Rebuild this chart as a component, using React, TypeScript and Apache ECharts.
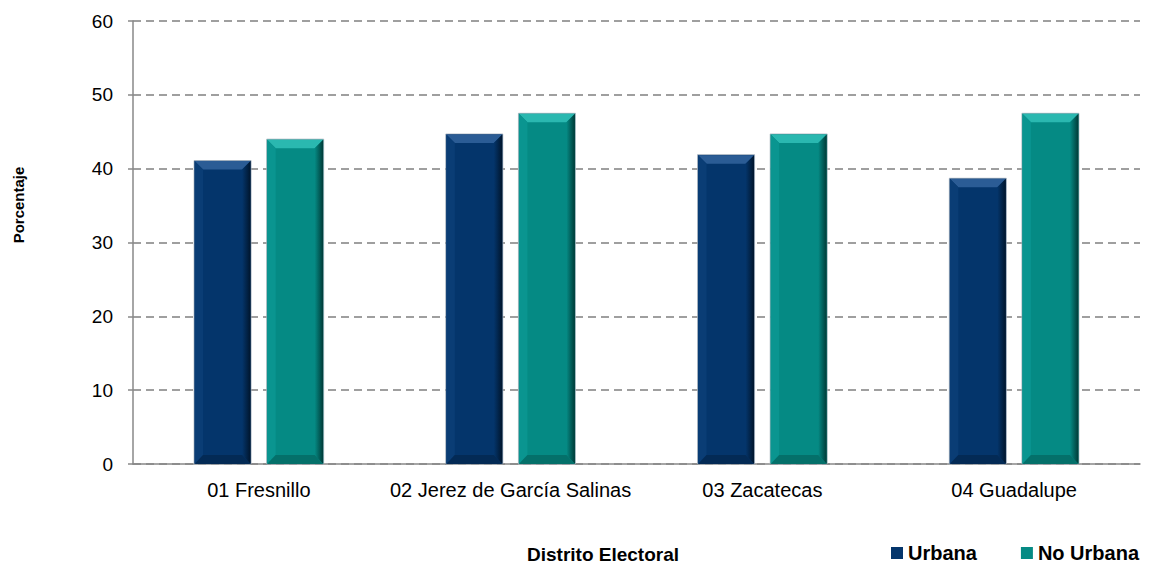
import React, { useEffect, useRef } from "react";
import * as echarts from "echarts";

const categories = ["01 Fresnillo", "02 Jerez de García Salinas", "03 Zacatecas", "04 Guadalupe"];
const urbana = [41.1, 44.7, 41.9, 38.7];
const noUrbana = [44.0, 47.5, 44.7, 47.5];
const yTicks = { min: 0, max: 60, interval: 10 };
const xTitle = "Distrito Electoral";
const yTitle = "Porcentaje";

const palettes = [
  { face: "#04356b", top: "#2b5c95", left: "#0a3d75", right: "#00152c", bottom: "#032a55" },
  { face: "#058a84", top: "#2ab8b0", left: "#0a9590", right: "#003a37", bottom: "#04706a" },
];

function makeRender(seriesIndex: number) {
  const p = palettes[seriesIndex];
  return (params: any, api: any) => {
    const idx = api.value(0);
    const v = api.value(1);
    const top = api.coord([idx, v]);
    const base = api.coord([idx, 0]);
    const band = api.size([1, 0])[0];
    const w = band * 0.2264;
    const g = band * 0.062;
    const cx = top[0] + (seriesIndex === 0 ? -1 : 1) * (w + g) / 2;
    const x0 = cx - w / 2;
    const x1 = cx + w / 2;
    const yt = top[1];
    const yb = base[1];
    const b = Math.min(9, (yb - yt) / 2);
    return {
      type: "group",
      children: [
        { type: "rect", shape: { x: x0, y: yt, width: w, height: yb - yt }, style: { fill: p.face, stroke: "rgba(170,180,190,0.8)", lineWidth: 1 } },
        { type: "polygon", shape: { points: [[x0 + 0.5, yt + 0.5], [x1 - 0.5, yt + 0.5], [x1 - b, yt + b], [x0 + b, yt + b]] }, style: { fill: p.top } },
        { type: "polygon", shape: { points: [[x0 + 0.5, yt + 0.5], [x0 + b, yt + b], [x0 + b, yb - b], [x0 + 0.5, yb]] }, style: { fill: p.left } },
        {
          type: "polygon",
          shape: { points: [[x1 - 0.5, yt + 0.5], [x1 - b, yt + b], [x1 - b, yb - b], [x1 - 0.5, yb]] },
          style: { fill: new echarts.graphic.LinearGradient(0, 0, 1, 0, [{ offset: 0, color: p.face }, { offset: 1, color: p.right }]) },
        },
        { type: "polygon", shape: { points: [[x0 + 0.5, yb], [x1 - 0.5, yb], [x1 - b, yb - b], [x0 + b, yb - b]] }, style: { fill: p.bottom } },
      ],
    };
  };
}

export default function App() {
  const ref = useRef<HTMLDivElement>(null);
  useEffect(() => {
    if (!ref.current) return;
    const chart = echarts.init(ref.current, null, { renderer: "svg" });
    const font = "Liberation Sans, Arial, sans-serif";
    chart.setOption({
      animation: false,
      textStyle: { fontFamily: font },
      grid: { left: 133, right: 17, top: 21, bottom: 102, containLabel: false },
      legend: {
        left: 891,
        top: 543,
        padding: 0,
        itemWidth: 12,
        itemHeight: 12,
        itemGap: 44,
        icon: "rect",
        textStyle: { fontSize: 20, fontWeight: "bold", color: "#000", fontFamily: font },
        data: ["Urbana", "No Urbana"],
      },
      graphic: [
        {
          type: "text",
          x: 603,
          y: 554,
          style: { text: xTitle, font: "bold 19px " + font, fill: "#000", textAlign: "center", textVerticalAlign: "middle" },
        },
        {
          type: "text",
          x: 18.5,
          y: 205,
          rotation: Math.PI / 2,
          style: { text: yTitle, font: "bold 15px " + font, fill: "#000", textAlign: "center", textVerticalAlign: "middle" },
        },
      ],
      xAxis: {
        type: "category",
        data: categories,
        axisLine: { lineStyle: { color: "#888", width: 1.5 } },
        axisTick: { show: false },
        axisLabel: { fontSize: 20, color: "#000", margin: 16, interval: 0 },
      },
      yAxis: {
        type: "value",
        min: yTicks.min,
        max: yTicks.max,
        interval: yTicks.interval,
        axisLine: { show: true, lineStyle: { color: "#888", width: 1.5 } },
        axisTick: { show: true, length: 5, lineStyle: { color: "#888", width: 1.5 } },
        axisLabel: { fontSize: 19, color: "#000", margin: 20 },
        splitLine: { show: true, lineStyle: { color: "#808080", width: 1.5, type: [8, 5] } },
      },
      series: [
        {
          name: "Urbana",
          type: "custom",
          itemStyle: { color: palettes[0].face },
          encode: { x: 0, y: 1 },
          data: urbana.map((v, i) => [i, v]),
          renderItem: makeRender(0),
        },
        {
          name: "No Urbana",
          type: "custom",
          itemStyle: { color: palettes[1].face },
          encode: { x: 0, y: 1 },
          data: noUrbana.map((v, i) => [i, v]),
          renderItem: makeRender(1),
        },
      ],
    });
    return () => chart.dispose();
  }, []);
  return <div ref={ref} style={{ width: 1157, height: 566, position: "absolute", left: 0, top: 0 }} />;
}
